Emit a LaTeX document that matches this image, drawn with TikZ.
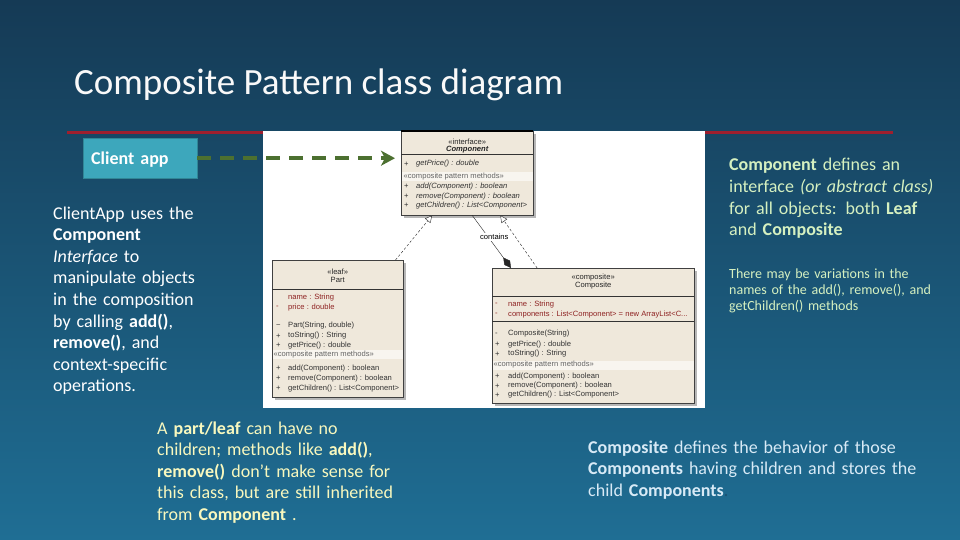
\documentclass[tikz,border=0pt]{standalone}
\usepackage{fontspec}
\setmainfont{Carlito}
\newfontfamily\umlfont{Liberation Sans}
\usepackage{tikz}
\usetikzlibrary{arrows.meta,positioning,calc,shadows}
\definecolor{bgtop}{HTML}{153A55}
\definecolor{bgmid}{HTML}{1A5273}
\definecolor{bgbot}{HTML}{1F6E94}
\definecolor{redbar}{HTML}{9E1F2E}
\definecolor{clientfill}{HTML}{3DA7BC}
\definecolor{clientarr}{HTML}{4C7030}
\definecolor{umlfill}{HTML}{EFE8DB}
\definecolor{attrred}{HTML}{8E2222}
\definecolor{notegreen}{HTML}{D5F0C0}
\definecolor{noteyellow}{HTML}{F8F8BE}
\definecolor{noteblue}{HTML}{D8EAF6}

\begin{document}
\begin{tikzpicture}[x=1pt,y=-1pt,
slidetext/.style={anchor=base west,inner sep=0pt,align=left,text width=#1,font=\fontsize{18}{21.6}\selectfont},
slidetext/.default=340pt,
clientbox/.style={fill=clientfill,draw=clientfill!80!black,anchor=north west,minimum width=114pt,minimum height=40pt,inner xsep=8pt,text width=98pt,text depth=0pt,align=left,text=white,font=\fontsize{18}{20}\selectfont\bfseries},
classbox/.style={draw=black!75,fill=umlfill,anchor=north west,inner sep=0pt,drop shadow={shadow xshift=2.5pt,shadow yshift=-2.5pt,fill=black!40,opacity=.7}},
sepline/.style={draw=black!80,line width=.6pt},
band/.style={fill=white!55!umlfill},
umlrow/.style={anchor=west,inner sep=0pt,font=\umlfont\fontsize{7.6}{8}\selectfont,text=black!80},
umlabs/.style={umlrow,font=\umlfont\itshape\fontsize{7.6}{8}\selectfont},
umlattr/.style={umlrow,text=attrred},
umlband/.style={umlrow,text=black!60},
umlhead/.style={inner sep=0pt,font=\umlfont\fontsize{7.6}{8}\selectfont,text=black!85},
realize/.style={draw=black!85,dash pattern=on 2.5pt off 2pt,-{Triangle[length=7pt,width=7pt,fill=white]}},
compose/.style={draw=black!85,{Diamond[length=13pt,width=7pt]}-},
arr/.style={clientarr,line width=4pt,dash pattern=on 14pt off 9pt,-{Stealth[length=14pt,width=15pt,inset=4pt]},shorten >=6pt}
]
\useasboundingbox (0,0) rectangle (960,540);
% slide background
\shade[top color=bgtop,middle color=bgmid,bottom color=bgbot] (0,0) rectangle (960,540);
\node[anchor=base west,inner sep=0pt,text=white!95!gray,font=\fontsize{37}{40}\selectfont] (title) at (74,95) {Composite Pattern class diagram};
\draw[redbar,line width=3.5pt] (67,132.5) -- (893,132.5);
\fill[white] (263,131) rectangle (705,408);

% classes
\node[classbox,minimum width=132pt,minimum height=84pt] (comp) at (401,131) {};
\node[classbox,minimum width=131pt,minimum height=137pt] (part) at (272,260) {};
\node[classbox,minimum width=202pt,minimum height=135pt] (compo) at (492,268) {};
\draw[black,line width=1.2pt] (comp.north west) -- (comp.north east);

\node[umlhead] (comph1) at ($(comp.north)+(0,10.7)$) {«interface»};
\node[umlhead,font=\umlfont\bfseries\itshape\fontsize{7.6}{8}\selectfont] (comph2) at ($(comp.north)+(0,19)$) {Component};
\draw[sepline] ($(comp.north west)+(0,23.3)$) -- ($(comp.north east)+(0,23.3)$);
\fill[band] ($(comp.north west)+(.5,41.3)$) rectangle ($(comp.north east)+(-.5,50)$);
\node[umlband] (compb) at ($(comp.north west)+(2.5,45.7)$) {«composite pattern methods»};
\foreach \yy/\tx [count=\i] in {33/{getPrice() : double},55.7/{add(Component) : boolean},65.3/{remove(Component) : boolean},74.7/{getChildren() : List<Component>}}{
  \node[umlrow] (comps\i) at ($(comp.north west)+(3,\yy)$) {+};
  \node[umlabs] (compr\i) at ($(comp.north west)+(15,\yy)$) {\tx};
}

\node[umlhead] (parth1) at ($(part.north)+(0,11.7)$) {«leaf»};
\node[umlhead] (parth2) at ($(part.north)+(0,19.5)$) {Part};
\draw[sepline] ($(part.north west)+(0,29)$) -- ($(part.north east)+(0,29)$);
\fill[band] ($(part.north west)+(.5,90)$) rectangle ($(part.north east)+(-.5,99)$);
\node[umlband] (partb) at ($(part.north west)+(1.5,94.3)$) {«composite pattern methods»};
\node[umlattr] (parta1) at ($(part.north west)+(16,37.7)$) {name : String};
\node[umlattr] (parts2) at ($(part.north west)+(4,47.3)$) {-};
\node[umlattr] (parta2) at ($(part.north west)+(16,47.3)$) {price : double};
\foreach \yy/\sy/\tx [count=\i] in {66/\textasciitilde/{Part(String, double)},76/+/{toString() : String},85.7/+/{getPrice() : double},108.7/+/{add(Component) : boolean},118.3/+/{remove(Component) : boolean},128.3/+/{getChildren() : List<Component>}}{
  \node[umlrow] (parts\i) at ($(part.north west)+(4,\yy)$) {\sy};
  \node[umlrow] (partr\i) at ($(part.north west)+(16,\yy)$) {\tx};
}

\node[umlhead] (compoh1) at ($(compo.north)+(0,9.7)$) {«composite»};
\node[umlhead] (compoh2) at ($(compo.north)+(0,18)$) {Composite};
\draw[sepline] ($(compo.north west)+(0,28.3)$) -- ($(compo.north east)+(0,28.3)$);
\draw[sepline] ($(compo.north west)+(0,53.3)$) -- ($(compo.north east)+(0,53.3)$);
\fill[band] ($(compo.north west)+(.5,92.5)$) rectangle ($(compo.north east)+(-.5,101.5)$);
\node[umlband] (compob) at ($(compo.north west)+(1.5,97)$) {«composite pattern methods»};
\foreach \yy/\tx [count=\i] in {36.7/{name : String},46.3/{components : List<Component> = new ArrayList<C...}}{
  \node[umlattr] (compoas\i) at ($(compo.north west)+(3,\yy)$) {-};
  \node[umlattr] (compoa\i) at ($(compo.north west)+(16,\yy)$) {\tx};
}
\foreach \yy/\sy/\tx [count=\i] in {66/-/{Composite(String)},76.3/+/{getPrice() : double},86/+/{toString() : String},108.7/+/{add(Component) : boolean},118/+/{remove(Component) : boolean},127/+/{getChildren() : List<Component>}}{
  \node[umlrow] (compos\i) at ($(compo.north west)+(3,\yy)$) {\sy};
  \node[umlrow] (compor\i) at ($(compo.north west)+(16,\yy)$) {\tx};
}

% relations
\draw[realize] ($(part.north west)!.94!(part.north east)$) -- ($(comp.south west)!.235!(comp.south east)$);
\draw[realize] ($(compo.north west)!.223!(compo.north east)$) -- ($(comp.south west)!.75!(comp.south east)$);
\draw[compose] ($(compo.north west)!.094!(compo.north east)$) -- node[pos=.585,xshift=6pt,fill=white,inner sep=1pt,font=\umlfont\fontsize{7.6}{8}\selectfont] (containslbl) {contains} ($(comp.south west)!.538!(comp.south east)$);

% client
\node[clientbox] (client) at (83,138) {Client app};
\draw[arr] (client.east) -- (client.east -| comp.west);

% notes
\node[slidetext=170pt,text=white] (clientnote) at (53,219) {ClientApp uses the\\\textbf{Component}\\\textit{Interface} to\\manipulate objects\\in the composition\\by calling \textbf{add()},\\\textbf{remove()}, and\\context-specific\\operations.};
\node[slidetext=220pt,text=notegreen] (compnote) at (729,171) {\textbf{Component} defines an\\interface \textit{(or abstract class)}\\for all objects: both \textbf{Leaf}\\and \textbf{Composite}};
\node[slidetext=220pt,text=notegreen,font=\fontsize{14}{16}\selectfont] (varnote) at (729,278) {There may be variations in the\\names of the add(), remove(), and\\getChildren() methods};
\node[slidetext=260pt,text=noteyellow] (leafnote) at (157,434) {A \textbf{part/leaf} can have no\\children; methods like \textbf{add()},\\\textbf{remove()} don’t make sense for\\this class, but are still inherited\\from \textbf{Component} .};
\node[slidetext=340pt,text=noteblue] (compositenote) at (588,453) {\textbf{Composite} defines the behavior of those\\\textbf{Components} having children and stores the\\child \textbf{Components}\textcolor{bgmid}{.}};
\end{tikzpicture}
\end{document}
